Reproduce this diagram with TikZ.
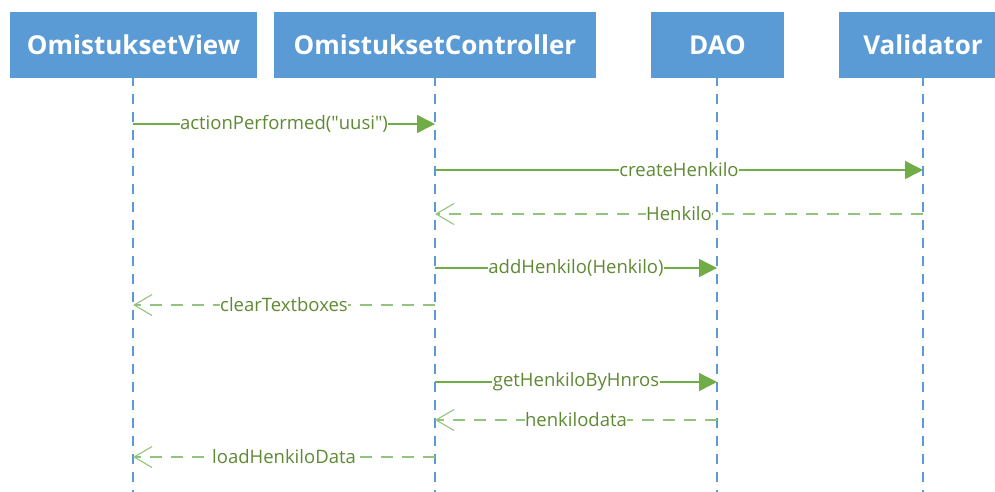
\documentclass[tikz,border=0pt]{standalone}
\usepackage{fontspec}
\setmainfont{Open Sans}
\usetikzlibrary{arrows.meta}
\definecolor{headblue}{HTML}{5B9BD5}
\definecolor{callgreen}{HTML}{70AD47}
\definecolor{retgreen}{HTML}{93C47D}
\definecolor{labgreen}{HTML}{5F8A34}
\tikzset{
  head/.style={fill=headblue, draw=none, minimum height=66pt, inner sep=0pt,
    text=white, font=\fontsize{26}{30}\selectfont\bfseries},
  lifeline/.style={draw=headblue, line width=1.3pt, dash pattern=on 10pt off 8pt},
  callmsg/.style={draw=callgreen, line width=1.3pt,
    -{Triangle[length=18pt,width=18pt,fill=callgreen]}},
  retmsg/.style={draw=retgreen, line width=1.3pt, dash pattern=on 12pt off 9pt,
    -{Straight Barb[length=18pt,width=21pt,line width=1.1pt,sep=0pt]}},
  msglabel/.style={fill=white, inner xsep=0.5pt, inner ysep=1pt, text=labgreen,
    font=\fontsize{18.5}{21}\selectfont},
}
\begin{document}
\begin{tikzpicture}[x=1pt,y=-1pt]
\useasboundingbox (0,0) rectangle (995,491);
\clip (0,0) rectangle (995,491);

% participant headers
\node[head, minimum width=247pt] (view) at (133.5,45) {OmistuksetView};
\node[head, minimum width=322pt] (ctrl) at (435,45) {OmistuksetController};
\node[head, minimum width=133pt] (dao)  at (717.5,45) {DAO};
\node[head, minimum width=168pt] (val)  at (923,45) {Validator};

% lifeline ends
\coordinate (viewEnd) at (133,495);
\coordinate (ctrlEnd) at (435,495);
\coordinate (daoEnd)  at (717,495);
\coordinate (valEnd)  at (923,495);
\draw[lifeline] ([yshift=2pt]view.south -| viewEnd) -- (viewEnd);
\draw[lifeline] ([yshift=2pt]ctrl.south -| ctrlEnd) -- (ctrlEnd);
\draw[lifeline] ([yshift=2pt]dao.south -| daoEnd) -- (daoEnd);
\draw[lifeline] ([yshift=2pt]val.south -| valEnd) -- (valEnd);

% message rows
\coordinate (r1) at (0,124);
\coordinate (r2) at (0,170);
\coordinate (r3) at (0,214);
\coordinate (r4) at (0,268);
\coordinate (r5) at (0,305);
\coordinate (r6) at (0,382);
\coordinate (r7) at (0,420);
\coordinate (r8) at (0,457);

% messages
\draw[callmsg] (viewEnd |- r1) -- node[msglabel] {actionPerformed(\textquotedbl uusi\textquotedbl)} (ctrlEnd |- r1);
\draw[callmsg] (ctrlEnd |- r2) -- node[msglabel] {createHenkilo} (valEnd |- r2);
\draw[retmsg]  (valEnd |- r3) -- node[msglabel] {Henkilo} (ctrlEnd |- r3);
\draw[callmsg] (ctrlEnd |- r4) -- node[msglabel] {addHenkilo(Henkilo)} (daoEnd |- r4);
\draw[retmsg]  (ctrlEnd |- r5) -- node[msglabel] {clearTextboxes} (viewEnd |- r5);
\draw[callmsg] (ctrlEnd |- r6) -- node[msglabel] {getHenkiloByHnros} (daoEnd |- r6);
\draw[retmsg]  (daoEnd |- r7) -- node[msglabel] {henkilodata} (ctrlEnd |- r7);
\draw[retmsg]  (ctrlEnd |- r8) -- node[msglabel] {loadHenkiloData} (viewEnd |- r8);
\end{tikzpicture}
\end{document}
